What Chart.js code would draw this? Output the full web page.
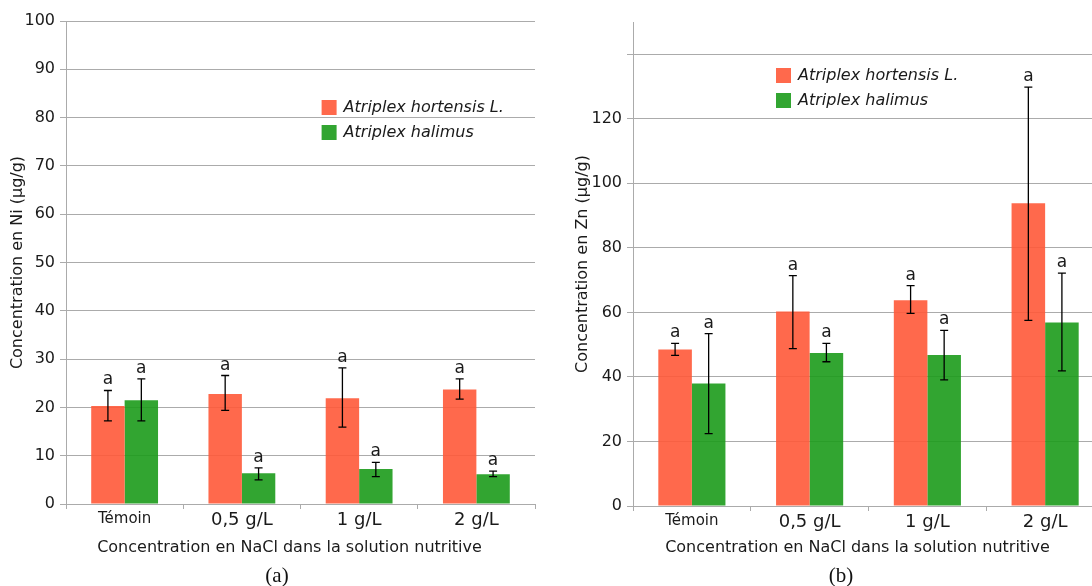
<!DOCTYPE html>
<html>
<head>
<meta charset="utf-8">
<script src="https://cdn.jsdelivr.net/npm/chart.js@4.4.1/dist/chart.umd.min.js"></script>
<style>
  html, body { margin:0; padding:0; background:#fff; width:1092px; height:586px; overflow:hidden; }
  .panel { position:absolute; top:0; }
  .cap { position:absolute; top:563px; font-family:"Liberation Serif", serif; font-size:21px; color:#111; transform:translateX(-50%); }
</style>
</head>
<body>
<div class="panel" style="left:0px;width:560px;height:586px;"><canvas id="cA" width="560" height="586"></canvas></div>
<div class="panel" style="left:560px;width:560px;height:586px;"><canvas id="cB" width="560" height="586"></canvas></div>
<div class="cap" style="left:277px;">(a)</div>
<div class="cap" style="left:841px;">(b)</div>
<script>
// ---------- data ----------
const categories = ['Témoin', '0,5 g/L', '1 g/L', '2 g/L'];
const seriesNames = ['Atriplex hortensis L.', 'Atriplex halimus'];
const xTitle = 'Concentration en NaCl dans la solution nutritive';

// (a) Nickel, µg/g
const niHortensis     = [20.3, 22.8, 21.9, 23.7];
const niHortensisLow  = [17.2, 19.4, 15.9, 21.7];
const niHortensisHigh = [23.5, 26.6, 28.2, 25.9];
const niHalimus       = [21.5, 6.35, 7.25, 6.15];
const niHalimusLow    = [17.2, 5.0, 5.65, 5.65];
const niHalimusHigh   = [25.9, 7.5, 8.6, 6.8];

// (b) Zinc, µg/g
const znHortensis     = [48.5, 60.3, 63.8, 93.8];
const znHortensisLow  = [46.7, 48.8, 59.7, 57.5];
const znHortensisHigh = [50.4, 71.4, 68.3, 129.8];
const znHalimus       = [38.0, 47.4, 46.8, 56.9];
const znHalimusLow    = [22.4, 44.7, 39.1, 41.9];
const znHalimusHigh   = [53.4, 50.4, 54.4, 72.2];

const sigHortensis = ['a', 'a', 'a', 'a'];
const sigHalimus   = ['a', 'a', 'a', 'a'];

const niTicks = [0, 10, 20, 30, 40, 50, 60, 70, 80, 90, 100];
const znTicks = [0, 20, 40, 60, 80, 100, 120, 140];
const znLabelled = [0, 20, 40, 60, 80, 100, 120];

// ---------- style ----------
const RED = 'rgba(255, 89, 57, 0.9)';
const GREEN = 'rgba(28, 155, 27, 0.9)';
const GRID = '#ababab';
const TXT = '#1a1a1a';
Chart.defaults.font.family = '"DejaVu Sans", sans-serif';
Chart.defaults.color = TXT;

const overlay = {
  id: 'overlay',
  afterDatasetsDraw(chart, args, opts) {
    const ctx = chart.ctx, ys = chart.scales.y, ca = chart.chartArea;
    ctx.save();
    chart.data.datasets.forEach((ds, di) => {
      const meta = chart.getDatasetMeta(di);
      meta.data.forEach((bar, i) => {
        const x = bar.x;
        const yl = ys.getPixelForValue(ds.errLow[i]);
        const yh = ys.getPixelForValue(ds.errHigh[i]);
        ctx.strokeStyle = '#000';
        ctx.lineWidth = 1.3;
        ctx.beginPath();
        ctx.moveTo(x, yl); ctx.lineTo(x, yh);
        ctx.moveTo(x - 4, yl); ctx.lineTo(x + 4, yl);
        ctx.moveTo(x - 4, yh); ctx.lineTo(x + 4, yh);
        ctx.stroke();
        ctx.fillStyle = TXT;
        ctx.font = '17px "DejaVu Sans"';
        ctx.textAlign = 'center';
        ctx.textBaseline = 'alphabetic';
        ctx.fillText(ds.sig[i], x, yh - 6);
      });
    });
    // legend
    const lx = ca.left + opts.dx, ly = ca.top + opts.dy;
    chart.data.datasets.forEach((ds, di) => {
      const top = ly + di * 25;
      ctx.fillStyle = ds.backgroundColor;
      ctx.fillRect(lx, top, 15, 15);
      ctx.fillStyle = TXT;
      ctx.font = 'italic 16px "DejaVu Sans"';
      ctx.textAlign = 'left';
      ctx.textBaseline = 'middle';
      ctx.fillText(ds.label, lx + 22, top + 8);
    });
    // x-axis title
    ctx.fillStyle = TXT;
    ctx.font = '16px "DejaVu Sans"';
    ctx.textAlign = 'center';
    ctx.textBaseline = 'alphabetic';
    ctx.fillText(xTitle, (ca.left + ca.right) / 2 + opts.titleDx, opts.titleBase);
    ctx.restore();
  }
};

function makeChart(id, cfg) {
  return new Chart(document.getElementById(id), {
    type: 'bar',
    data: {
      labels: categories,
      datasets: [
        { label: seriesNames[0], data: cfg.d1, errLow: cfg.l1, errHigh: cfg.h1, sig: sigHortensis,
          backgroundColor: RED, borderWidth: 0 },
        { label: seriesNames[1], data: cfg.d2, errLow: cfg.l2, errHigh: cfg.h2, sig: sigHalimus,
          backgroundColor: GREEN, borderWidth: 0 }
      ]
    },
    plugins: [overlay],
    options: {
      responsive: false,
      animation: false,
      devicePixelRatio: 1,
      categoryPercentage: 0.57,
      barPercentage: 1.0,
      layout: { padding: cfg.padding },
      plugins: {
        legend: { display: false },
        tooltip: { enabled: false },
        overlay: { dx: cfg.legDx, dy: cfg.legDy, titleDx: -11, titleBase: 552 }
      },
      scales: {
        x: {
          grid: { offset: true, drawOnChartArea: false, drawTicks: true, tickLength: 5, color: GRID, tickColor: GRID },
          border: { color: GRID, width: 1 },
          ticks: {
            padding: 1,
            color: TXT,
            font: (c) => ({ size: c.index === 0 ? 15 : 18, family: '"DejaVu Sans"' })
          },
          title: { display: false },
          afterFit: (s) => { s.height = cfg.xh; }
        },
        y: {
          min: 0, max: cfg.max,
          afterBuildTicks: (s) => { s.ticks = cfg.ticks.map(v => ({ value: v })); },
          grid: { color: GRID, tickColor: GRID, tickLength: 6, lineWidth: 1 },
          border: { color: GRID, width: 1 },
          ticks: {
            padding: 5, color: TXT, font: { size: 16 },
            callback: (v) => cfg.labelled.includes(v) ? String(v) : ''
          },
          title: { display: true, text: cfg.ytitle, font: { size: 16 }, color: TXT,
                   padding: { top: cfg.ytp, bottom: 0 } },
          afterFit: (s) => { s.width = cfg.yw; }
        }
      }
    }
  });
}

makeChart('cA', {
  d1: niHortensis, l1: niHortensisLow, h1: niHortensisHigh,
  d2: niHalimus, l2: niHalimusLow, h2: niHalimusHigh,
  max: 100, ticks: niTicks, labelled: niTicks,
  ytitle: 'Concentration en Ni (µg/g)',
  padding: { left: 0, top: 21, right: 25, bottom: 30 },
  xh: 52, yw: 66, ytp: 8,
  legDx: 255.6, legDy: 79
});

makeChart('cB', {
  d1: znHortensis, l1: znHortensisLow, h1: znHortensisHigh,
  d2: znHalimus, l2: znHalimusLow, h2: znHalimusHigh,
  max: 150, ticks: znTicks, labelled: znLabelled,
  ytitle: 'Concentration en Zn (µg/g)',
  padding: { left: 0, top: 22, right: 16, bottom: 30 },
  xh: 50, yw: 73, ytp: 13,
  legDx: 143, legDy: 46
});
</script>
</body>
</html>
